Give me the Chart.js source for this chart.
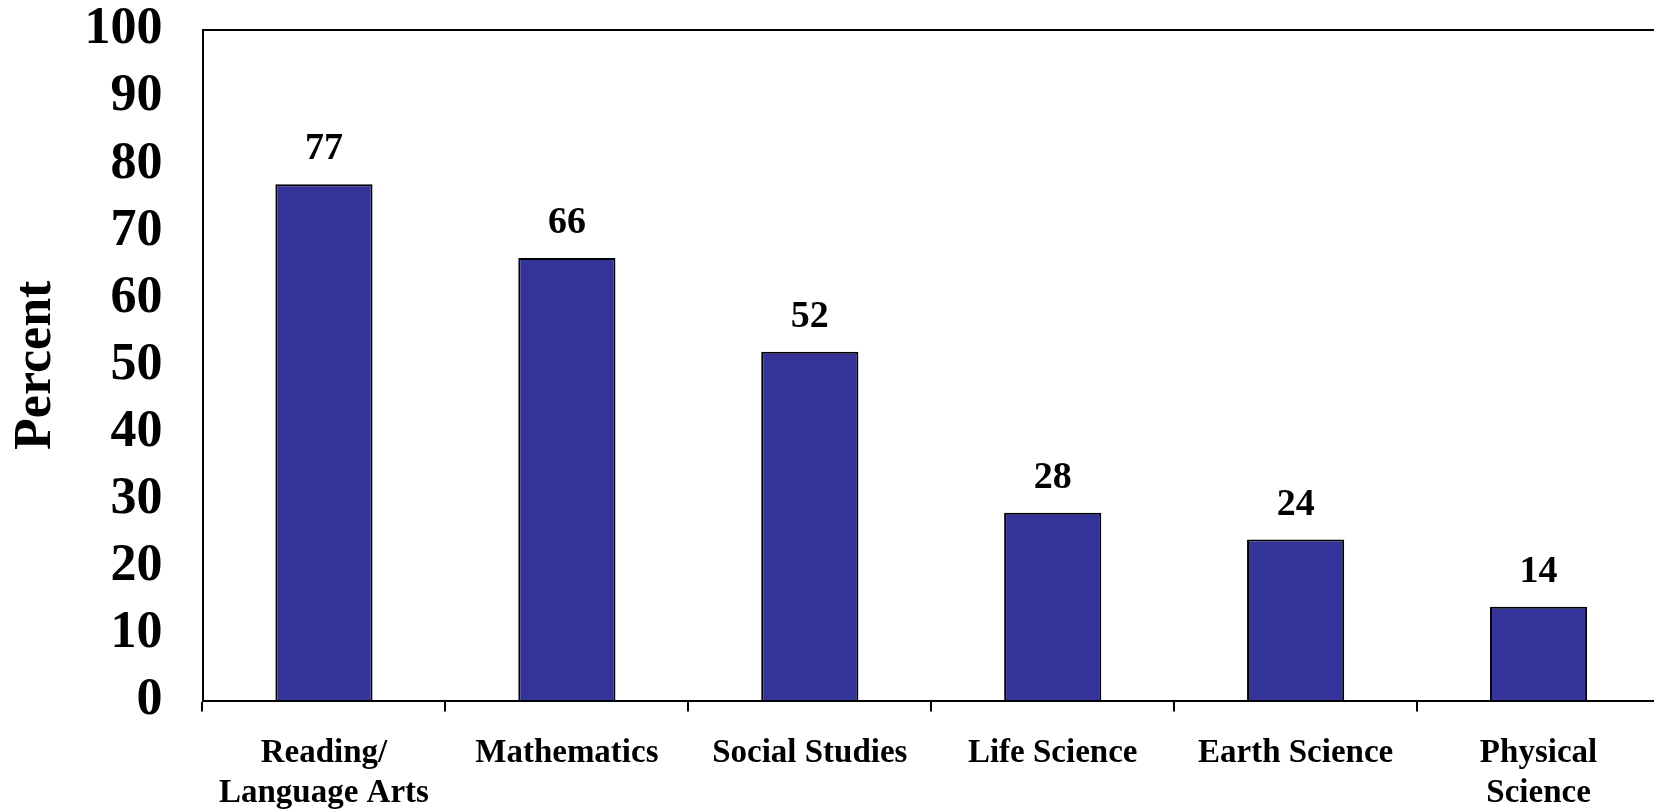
<!DOCTYPE html>
<html>
<head>
<meta charset="utf-8">
<script src="https://cdn.jsdelivr.net/npm/chart.js@4"></script>
<style>
  html, body { margin: 0; padding: 0; background: #fff; overflow: hidden; }
  #wrap { width: 1660px; height: 810px; position: relative; }
</style>
</head>
<body>
<div id="wrap"><canvas id="barChart"></canvas></div>
<script>
const subjects = [['Reading/', 'Language Arts'], 'Mathematics', 'Social Studies', 'Life Science', 'Earth Science', ['Physical', 'Science']];
const percents = [77, 66, 52, 28, 24, 14];
const yTicks = [0, 10, 20, 30, 40, 50, 60, 70, 80, 90, 100];

const serif = '"Liberation Serif", "Times New Roman", serif';

// value labels above bars + top frame line
const extras = {
  id: 'extras',
  afterDatasetsDraw(chart) {
    const ctx = chart.ctx;
    const meta = chart.getDatasetMeta(0);
    ctx.save();
    ctx.font = 'bold 38px ' + serif;
    ctx.fillStyle = '#000';
    ctx.textAlign = 'center';
    ctx.textBaseline = 'alphabetic';
    meta.data.forEach((bar, i) => {
      ctx.fillText(String(percents[i]), bar.x, bar.y - 25);
    });
    const a = chart.chartArea;
    ctx.strokeStyle = '#000';
    ctx.lineWidth = 2;
    ctx.beginPath();
    ctx.moveTo(a.left, a.top);
    ctx.lineTo(chart.width, a.top);
    ctx.stroke();
    ctx.restore();
  }
};

const ctxBar = document.getElementById('barChart').getContext('2d');
new Chart(ctxBar, {
  type: 'bar',
  data: {
    labels: subjects,
    datasets: [{
      data: percents,
      backgroundColor: '#333399',
      borderColor: '#000',
      borderWidth: 2,
      categoryPercentage: 0.4,
      barPercentage: 1.0
    }]
  },
  options: {
    responsive: true,
    maintainAspectRatio: false,
    animation: false,
    layout: { padding: { top: 30, right: 0, left: 0, bottom: 0 } },
    plugins: { legend: { display: false }, tooltip: { enabled: false } },
    scales: {
      x: {
        grid: { offset: true, drawOnChartArea: false, drawTicks: true, tickLength: 11, color: '#000', lineWidth: 2 },
        border: { display: true, color: '#000', width: 2 },
        ticks: {
          color: '#000',
          padding: 22,
          maxRotation: 0,
          autoSkip: false,
          font: { family: serif, size: 33, weight: 'bold', lineHeight: 1.21 }
        },
        afterFit(axis) { axis.height = 109.5; axis.paddingLeft = 0; axis.paddingRight = 0; }
      },
      y: {
        min: 0,
        max: 100,
        afterBuildTicks(axis) { axis.ticks = yTicks.map(v => ({ value: v })); },
        grid: { display: false },
        border: { display: true, color: '#000', width: 2 },
        ticks: {
          color: '#000',
          padding: 32,
          autoSkip: false,
          font: { family: serif, size: 52, weight: 'bold' }
        },
        title: {
          display: true,
          text: 'Percent',
          color: '#000',
          padding: { top: 5, bottom: 0 },
          font: { family: serif, size: 52, weight: 'bold', lineHeight: 1.2 }
        },
        afterFit(axis) { axis.width = 202.5; axis.paddingTop = 0; axis.paddingBottom = 0; }
      }
    }
  },
  plugins: [extras]
});
</script>
</body>
</html>
